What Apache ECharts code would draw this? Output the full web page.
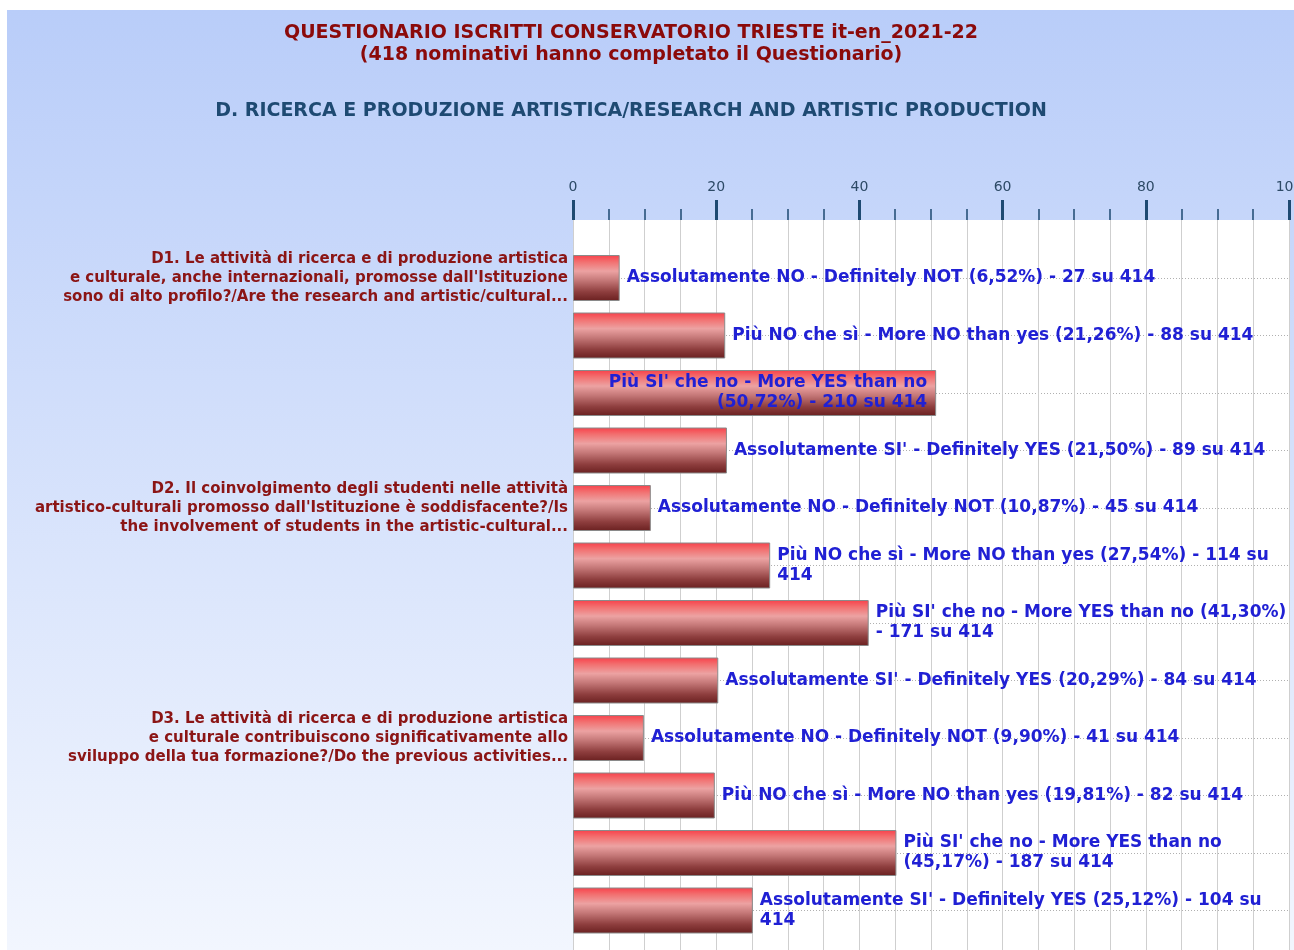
<!DOCTYPE html>
<html><head><meta charset="utf-8">
<script src="https://cdn.jsdelivr.net/npm/echarts@6/dist/echarts.min.js"></script>
<style>html,body{margin:0;padding:0;background:#fff;overflow:hidden}
#c{position:absolute;left:7px;top:10px;width:1287px;height:940px}</style>
</head><body><div id="c"></div>
<script>
const titleLines = ["QUESTIONARIO ISCRITTI CONSERVATORIO TRIESTE it-en_2021-22", "(418 nominativi hanno completato il Questionario)"];
const subtitle = "D. RICERCA E PRODUZIONE ARTISTICA/RESEARCH AND ARTISTIC PRODUCTION";
const questions = [
  "D1. Le attività di ricerca e di produzione artistica\ne culturale, anche internazionali, promosse dall'Istituzione\nsono di alto profilo?/Are the research and artistic/cultural...",
  "D2. Il coinvolgimento degli studenti nelle attività\nartistico-culturali promosso dall'Istituzione è soddisfacente?/Is\nthe involvement of students in the artistic-cultural...",
  "D3. Le attività di ricerca e di produzione artistica\ne culturale contribuiscono significativamente allo\nsviluppo della tua formazione?/Do the previous activities..."
];
const answers = ["Assolutamente NO - Definitely NOT", "Più NO che sì - More NO than yes", "Più SI' che no - More YES than no", "Assolutamente SI' - Definitely YES"];
const percents = [6.52, 21.26, 50.72, 21.50, 10.87, 27.54, 41.30, 20.29, 9.90, 19.81, 45.17, 25.12];
const counts = [27, 88, 210, 89, 45, 114, 171, 84, 41, 82, 187, 104];
const total = 414;
const xTicks = [0, 20, 40, 60, 80, 100];

const FONT = 'DejaVu Sans';
const LABEL_FONT = 'bold 17px "DejaVu Sans"';
const fmtPct = v => v.toFixed(2).replace('.', ',');
const cats = percents.map((_, i) => 'Q' + (Math.floor(i / 4) + 1) + '-' + (i % 4 + 1));
const labelText = i => answers[i % 4] + ' (' + fmtPct(percents[i]) + '%) - ' + counts[i] + ' su ' + total;

// word wrap at spaces to fit a given pixel width
const ctx = document.createElement('canvas').getContext('2d');
function wrap(text, maxW) {
  ctx.font = LABEL_FONT;
  const words = text.split(' ');
  const lines = [];
  let cur = '';
  for (const w of words) {
    const t = cur ? cur + ' ' + w : w;
    if (cur && ctx.measureText(t).width > maxW) { lines.push(cur); cur = w; }
    else cur = t;
  }
  if (cur) lines.push(cur);
  return lines.join('\n');
}

const chart = echarts.init(document.getElementById('c'));
const barGrad = new echarts.graphic.LinearGradient(0, 0, 0, 1, [
  {offset: 0, color: '#f8404a'}, {offset: 0.15, color: '#f27070'},
  {offset: 0.35, color: '#eca2a2'}, {offset: 0.55, color: '#c57878'},
  {offset: 0.8, color: '#8e3e3e'}, {offset: 1, color: '#6a2020'}
]);
const option = {
  animation: false,
  backgroundColor: new echarts.graphic.LinearGradient(0, 0, 0, 1, [
    {offset: 0, color: '#b9cdf9'}, {offset: 1, color: '#f2f6fe'}
  ]),
  title: [
    {text: titleLines.join('\n'), left: 619, top: 7, textAlign: 'center',
     textStyle: {fontFamily: FONT, fontSize: 19, fontWeight: 'bold', color: '#8b0a0a', lineHeight: 22}},
    {text: subtitle, left: 619, top: 87, textAlign: 'center',
     textStyle: {fontFamily: FONT, fontSize: 19, fontWeight: 'bold', color: '#1e4a72'}}
  ],
  grid: [
    {left: 566, right: 5, top: 210, bottom: 0, show: true, backgroundColor: '#fff', borderWidth: 0,
     containLabel: false, outerBoundsMode: 'none'},
    {left: 566, right: 5, top: 268, bottom: 39.5, containLabel: false, outerBoundsMode: 'none'}
  ],
  xAxis: [
    {gridIndex: 0, type: 'value', position: 'top', min: 0, max: 100, interval: 20,
     axisLine: {show: false, onZero: false},
     axisTick: {show: true, inside: false, length: 20, lineStyle: {color: '#1e4a72', width: 3}},
     minorTick: {show: true, splitNumber: 4, length: 11, lineStyle: {color: '#1e4a72', width: 1.5}},
     splitLine: {show: true, lineStyle: {color: '#cfcfcf', width: 1}},
     minorSplitLine: {show: true, lineStyle: {color: '#cfcfcf', width: 1}},
     axisLabel: {margin: 26, fontFamily: FONT, fontSize: 14, color: '#2d4a66', formatter: v => xTicks.includes(v) ? String(v) : ''}},
    {gridIndex: 1, type: 'value', min: 0, max: 100, show: false}
  ],
  yAxis: [
    {gridIndex: 0, type: 'value', show: false},
    {gridIndex: 1, type: 'category', data: cats, inverse: true, boundaryGap: false,
     axisLine: {show: false, onZero: false}, axisTick: {show: false},
     splitLine: {show: true, lineStyle: {color: '#b0b0b0', type: [1, 2], width: 1}},
     axisLabel: {show: true, margin: 5, interval: 0, align: 'right',
       fontFamily: FONT, fontSize: 15, fontWeight: 'bold', color: '#8b1515', lineHeight: 19,
       formatter: (v, i) => (i % 4 === 0 ? questions[i / 4] : '')}}
  ],
  series: [{
    type: 'bar', xAxisIndex: 1, yAxisIndex: 1, barWidth: 46, clip: false,
    itemStyle: {color: barGrad, borderColor: '#8a8a8a', borderWidth: 1},
    label: {show: true, position: 'right', distance: 7, fontFamily: FONT, fontSize: 17, fontWeight: 'bold',
      color: '#2020d4', lineHeight: 20, formatter: p => labelText(p.dataIndex)},
    data: percents.map(v => ({value: v}))
  }]
};
chart.setOption(option);
// wrap labels at the plot's right edge (label 3 sits inside its bar)
const leftPx = chart.convertToPixel({xAxisIndex: 1}, 0);
const rightPx = chart.convertToPixel({xAxisIndex: 1}, 100);
const data = percents.map((v, i) => {
  const endPx = chart.convertToPixel({xAxisIndex: 1}, v);
  if (i === 2) {
    const txt = wrap(labelText(i), endPx - leftPx - 14);
    return {value: v, label: {position: 'insideRight', distance: 9, align: 'right', formatter: () => txt}};
  }
  const txt = wrap(labelText(i), rightPx + 4 - endPx - 7);
  return {value: v, label: {formatter: () => txt}};
});
chart.setOption({series: [{data: data}]});
</script></body></html>
